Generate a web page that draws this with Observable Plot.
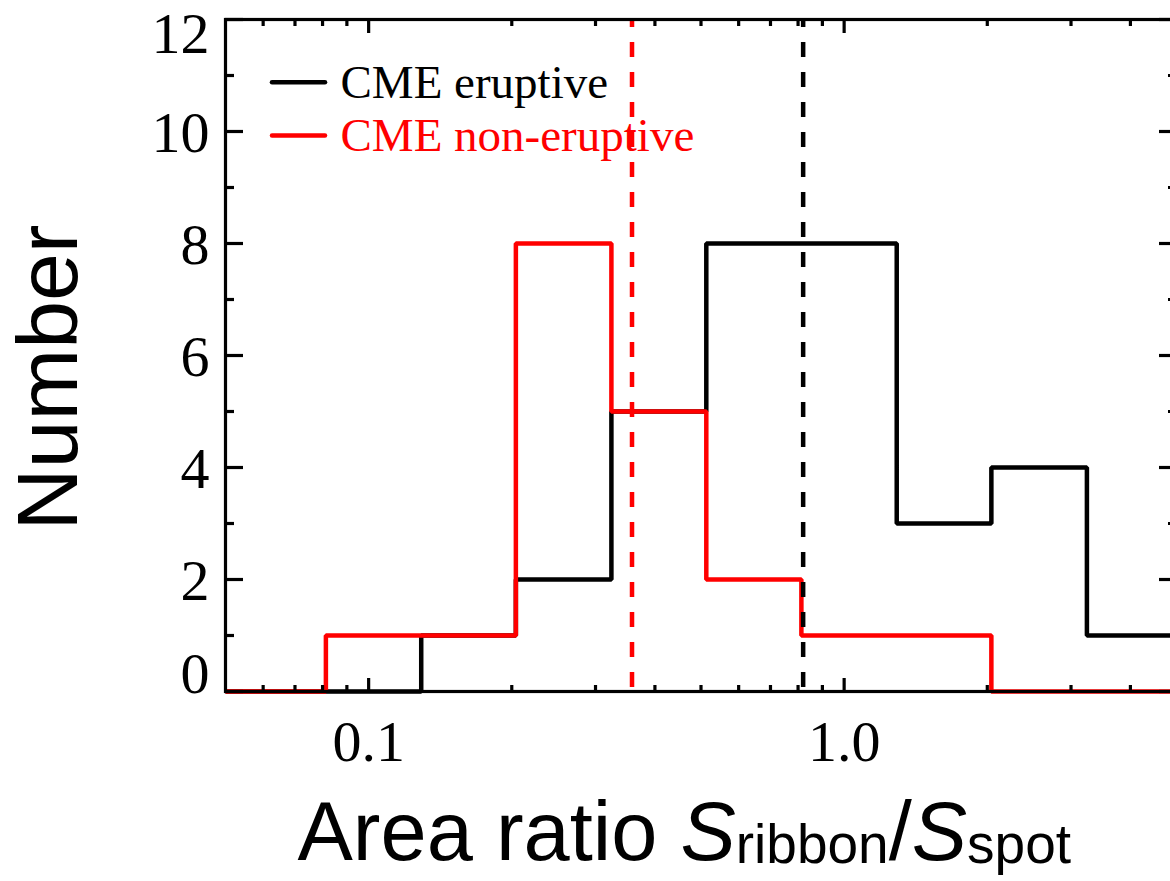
<!DOCTYPE html>
<html><head><meta charset="utf-8">
<script src="https://cdn.jsdelivr.net/npm/d3@7"></script>
<script src="https://cdn.jsdelivr.net/npm/@observablehq/plot@0.6"></script>
<style>html,body{margin:0;padding:0;background:#fff;overflow:hidden}</style>
</head><body><div id="chart"></div>
<script>
// ---- data ----
const binEdges = [0.05, 0.0813, 0.129, 0.204, 0.324, 0.513, 0.813, 1.29, 2.04, 3.24, 5.13];
const eruptiveCounts    = [0, 0, 1, 2, 5, 8, 8, 3, 4, 1];
const nonEruptiveCounts = [0, 1, 1, 8, 5, 2, 1, 1, 0, 0];
const eruptiveMedian = 0.82;
const nonEruptiveMedian = 0.358;
const seriesNames = ["CME eruptive", "CME non-eruptive"];
const xMajorTicks = [0.1, 1.0];
const xMinorTicks = [0.06, 0.07, 0.08, 0.09, 0.2, 0.3, 0.4, 0.5, 0.6, 0.7, 0.8, 0.9, 2, 3, 4];
const yMajorTicks = [0, 2, 4, 6, 8, 10, 12];
const yMinorTicks = [1, 3, 5, 7, 9, 11];
const yLabelsInner = [2, 4, 6, 8, 10];
const yLabelTop = [12];
const yLabelBottom = [0];
const yTitle = "Number";
const xTitleParts = [
  {text: "Area ratio ", role: "plain"},
  {text: "S", role: "var"},
  {text: "ribbon", role: "sub"},
  {text: "/", role: "plain"},
  {text: "S", role: "var"},
  {text: "spot", role: "sub"}
];

const BLACK = "#000000", RED = "#ff0000";
const serif = "'Liberation Serif', 'Times New Roman', serif";
const sans = "'Liberation Sans', Arial, Helvetica, sans-serif";

function steps(counts) {
  const pts = counts.map((c, i) => ({x: binEdges[i], y: c}));
  pts.push({x: binEdges[counts.length], y: counts[counts.length - 1]});
  return pts;
}

const axisCommon = {label: null, fill: "none", stroke: BLACK, strokeWidth: 3.2};
const xTitleText = xTitleParts.map(p => p.text).join("");

const chart = Plot.plot({
  width: 1170,
  height: 881,
  marginLeft: 225,
  marginRight: -6,
  marginTop: 19,
  marginBottom: 190,
  style: {background: "white", fontFamily: serif, overflow: "hidden"},
  x: {type: "log", domain: [0.05, 5]},
  y: {domain: [0, 12]},
  marks: [
    // histograms (red drawn above black)
    Plot.line(steps(eruptiveCounts), {x: "x", y: "y", curve: "step-after", stroke: BLACK, strokeWidth: 4.5, strokeLinejoin: "miter", strokeLinecap: "butt"}),
    Plot.line(steps(nonEruptiveCounts), {x: "x", y: "y", curve: "step-after", stroke: RED, strokeWidth: 4.5, strokeLinejoin: "miter", strokeLinecap: "butt"}),
    // medians
    Plot.ruleX([nonEruptiveMedian], {x: d => d, stroke: RED, strokeWidth: 4.5, strokeDasharray: "15,15", strokeDashoffset: 7}),
    Plot.ruleX([eruptiveMedian], {x: d => d, stroke: BLACK, strokeWidth: 4.5, strokeDasharray: "15,15", strokeDashoffset: 7}),
    // frame
    Plot.frame({stroke: BLACK, strokeWidth: 3.2}),
    // inward ticks
    Plot.axisX(xMajorTicks, {...axisCommon, anchor: "bottom", tickSize: -13}),
    Plot.axisX(xMinorTicks, {...axisCommon, anchor: "bottom", tickSize: -6}),
    Plot.axisX(xMajorTicks, {...axisCommon, anchor: "top", tickSize: -13}),
    Plot.axisX(xMinorTicks, {...axisCommon, anchor: "top", tickSize: -6}),
    Plot.axisY(yMajorTicks, {...axisCommon, anchor: "left", tickSize: -18}),
    Plot.axisY(yMinorTicks, {...axisCommon, anchor: "left", tickSize: -9}),
    Plot.axisY(yMajorTicks, {...axisCommon, anchor: "right", tickSize: -18}),
    Plot.axisY(yMinorTicks, {...axisCommon, anchor: "right", tickSize: -9}),
    // tick labels
    Plot.text(xMajorTicks, {x: d => d, frameAnchor: "bottom", dy: 51, text: d => d.toFixed(1), lineAnchor: "middle", fontSize: 58, fontFamily: serif, fill: BLACK}),
    Plot.text(yLabelsInner, {y: d => d, frameAnchor: "left", dx: -16, dy: 2, text: d => String(d), textAnchor: "end", lineAnchor: "middle", fontSize: 58, fontFamily: serif, fill: BLACK}),
    Plot.text(yLabelTop, {y: d => d, frameAnchor: "left", dx: -16, dy: 15, text: d => String(d), textAnchor: "end", lineAnchor: "middle", fontSize: 58, fontFamily: serif, fill: BLACK}),
    Plot.text(yLabelBottom, {y: d => d, frameAnchor: "left", dx: -16, dy: -17, text: d => String(d), textAnchor: "end", lineAnchor: "middle", fontSize: 58, fontFamily: serif, fill: BLACK}),
    // axis titles
    Plot.text([yTitle], {text: d => d, frameAnchor: "left", dx: -176, dy: 22, rotate: -90, textAnchor: "middle", lineAnchor: "middle", fontSize: 86, fontFamily: sans, fill: BLACK}),
    Plot.text([xTitleText], {text: d => d, frameAnchor: "bottom-left", dx: 72, dy: 168, textAnchor: "start", lineAnchor: "bottom", fontSize: 83, fontFamily: sans, fill: BLACK}),
    // legend
    Plot.vector([seriesNames[0]], {frameAnchor: "top-left", dx: 46.5, dy: 62.7, anchor: "start", rotate: 90, length: 53, stroke: BLACK, strokeWidth: 4.5,
      shape: {draw(ctx, l) { ctx.moveTo(0, 0); ctx.lineTo(0, -l); }}}),
    Plot.vector([seriesNames[1]], {frameAnchor: "top-left", dx: 46.5, dy: 116, anchor: "start", rotate: 90, length: 53, stroke: RED, strokeWidth: 4.5,
      shape: {draw(ctx, l) { ctx.moveTo(0, 0); ctx.lineTo(0, -l); }}}),
    Plot.text([seriesNames[0]], {text: d => d, frameAnchor: "top-left", dx: 115, dy: 78, textAnchor: "start", lineAnchor: "bottom", fontSize: 47, fontFamily: serif, fill: BLACK}),
    Plot.text([seriesNames[1]], {text: d => d, frameAnchor: "top-left", dx: 115, dy: 131, textAnchor: "start", lineAnchor: "bottom", fontSize: 47, fontFamily: serif, fill: RED})
  ]
});

// rich x title: italic S and subscripts
d3.select(chart).selectAll("text").filter(function() { return this.textContent === xTitleText; }).each(function() {
  const t = d3.select(this);
  t.text(null);
  let shift = 0;
  for (const p of xTitleParts) {
    const ts = t.append("tspan").text(p.text);
    const want = p.role === "sub" ? 3 : 0;
    if (want !== shift) { ts.attr("dy", want - shift); shift = want; }
    if (p.role === "var") ts.attr("font-style", "italic");
    if (p.role === "sub") ts.attr("font-size", 55);
  }
});

document.getElementById("chart").appendChild(chart);
</script>
</body></html>
